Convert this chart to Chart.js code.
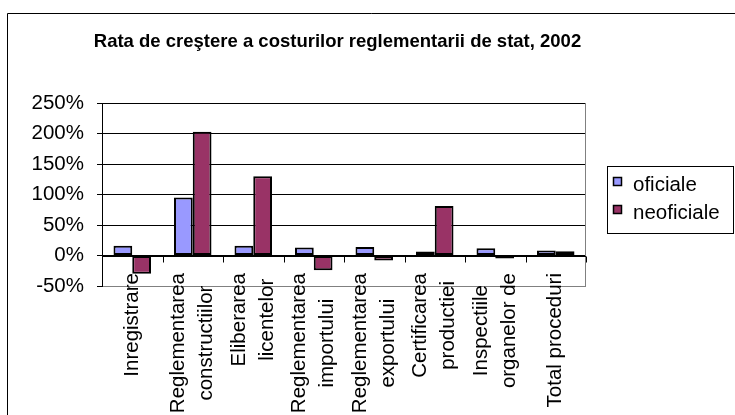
<!DOCTYPE html>
<html>
<head>
<meta charset="utf-8">
<script src="https://cdn.jsdelivr.net/npm/chart.js@4.4.1/dist/chart.umd.min.js"></script>
<style>
html,body{margin:0;padding:0;background:#fff;overflow:hidden}
#wrap{position:relative;width:735px;height:415px}
canvas{display:block}
</style>
</head>
<body>
<div id="wrap"><canvas id="c" width="735" height="415"></canvas></div>
<script>
// ---- data ----
const chartTitle = "Rata de creştere a costurilor reglementarii de stat, 2002";
const categories = [
  "Inregistrare",
  ["Reglementarea", "constructiilor"],
  ["Eliberarea", "licentelor"],
  ["Reglementarea", "importului"],
  ["Reglementarea", "exportului"],
  ["Certificarea", "productiei"],
  ["Inspectiile", "organelor de"],
  "Total proceduri"
];
const seriesNames = ["oficiale", "neoficiale"];
const oficiale   = [16, 95, 16, 13, 14, 6.5, 12, 8];
const neoficiale = [-30, 203, 130, -24, -8, 81, -5, 7];
const yTicks = [-50, 0, 50, 100, 150, 200, 250];

// ---- styling ----
const FONT = "'Liberation Sans', Arial, Helvetica, sans-serif";
const COLORS = ["#9999FF", "#993366"];

const decorPlugin = {
  id: 'decor',
  beforeDraw(chart) {
    const ctx = chart.ctx;
    ctx.save();
    ctx.fillStyle = '#fff';
    ctx.fillRect(0, 0, chart.width, chart.height);
    // outer chart frame
    ctx.strokeStyle = '#000';
    ctx.lineWidth = 1;
    ctx.beginPath();
    ctx.moveTo(7.5, chart.height + 2);
    ctx.lineTo(7.5, 13.5);
    ctx.lineTo(chart.width + 2, 13.5);
    ctx.stroke();
    // title
    ctx.fillStyle = '#000';
    ctx.font = "bold 18.5px " + FONT;
    ctx.textAlign = 'center';
    ctx.textBaseline = 'alphabetic';
    ctx.fillText(chartTitle, 337.5, 46.7);
    ctx.restore();
  },
  afterDatasetsDraw(chart) {
    const ctx = chart.ctx;
    const a = chart.chartArea;
    const xs = chart.scales.x, ys = chart.scales.y;
    ctx.save();
    // plot area right border (grey)
    ctx.strokeStyle = '#808080';
    ctx.lineWidth = 1;
    ctx.beginPath();
    ctx.moveTo(Math.round(a.right) - 0.5, a.top);
    ctx.lineTo(Math.round(a.right) - 0.5, a.bottom);
    ctx.stroke();
    // category axis at zero with tick marks between categories
    const y0 = Math.round(ys.getPixelForValue(0)) + 0.5;
    ctx.strokeStyle = '#000';
    ctx.beginPath();
    ctx.moveTo(a.left, y0);
    ctx.lineTo(a.right, y0);
    const n = categories.length;
    for (let i = 0; i <= n; i++) {
      const px = Math.round(xs.getPixelForValue(i - 0.5)) + 0.5;
      ctx.moveTo(px, y0);
      ctx.lineTo(px, y0 + 6);
    }
    ctx.stroke();
    ctx.restore();
  },
  afterDraw(chart) {
    const ctx = chart.ctx;
    const xs = chart.scales.x;
    ctx.save();
    // category labels, rotated, lines centred on the category
    ctx.fillStyle = '#000';
    ctx.font = "20.5px " + FONT;
    const LH = 28;
    const top = 273;
    categories.forEach((lab, i) => {
      const lines = Array.isArray(lab) ? lab : [lab];
      const cx = xs.getPixelForValue(i);
      const maxW = Math.max(...lines.map(l => ctx.measureText(l).width));
      const cy = top + maxW / 2;
      lines.forEach((line, j) => {
        const lx = cx + (j - (lines.length - 1) / 2) * LH;
        ctx.save();
        ctx.translate(lx, cy);
        ctx.rotate(-Math.PI / 2);
        ctx.textAlign = 'center';
        ctx.textBaseline = 'middle';
        ctx.fillText(line, 0, 0);
        ctx.restore();
      });
    });
    // legend
    ctx.strokeStyle = '#000';
    ctx.lineWidth = 1;
    ctx.strokeRect(607.5, 166.5, 126, 67);
    chart.data.datasets.forEach((ds, i) => {
      const my = 177.5 + 28 * i;
      ctx.fillStyle = ds.backgroundColor;
      ctx.fillRect(613.5, my, 8, 8);
      ctx.lineWidth = 1.5;
      ctx.strokeRect(613.5, my, 8, 8);
      ctx.fillStyle = '#000';
      ctx.font = "20.5px " + FONT;
      ctx.textAlign = 'left';
      ctx.textBaseline = 'alphabetic';
      ctx.fillText(ds.label, 633, 190.7 + 28 * i);
    });
    ctx.restore();
  }
};

new Chart(document.getElementById('c'), {
  type: 'bar',
  data: {
    labels: categories,
    datasets: [
      { label: seriesNames[0], data: oficiale, backgroundColor: COLORS[0] },
      { label: seriesNames[1], data: neoficiale, backgroundColor: COLORS[1] }
    ]
  },
  options: {
    responsive: false,
    devicePixelRatio: 1,
    animation: false,
    layout: { padding: { top: 103, left: 0, right: 149, bottom: 0 } },
    datasets: {
      bar: {
        categoryPercentage: 0.62,
        barPercentage: 1.0,
        borderColor: '#000',
        borderWidth: 2,
        borderSkipped: false
      }
    },
    plugins: {
      legend: { display: false },
      title: { display: false },
      tooltip: { enabled: false }
    },
    scales: {
      x: {
        afterFit: s => { s.height = 415 - 286; },
        ticks: { display: false },
        grid: { display: false },
        border: { display: false }
      },
      y: {
        min: -50,
        max: 250,
        afterBuildTicks: s => { s.ticks = yTicks.map(v => ({ value: v })); },
        afterFit: s => { s.width = 102; },
        ticks: {
          callback: v => v + '%',
          color: '#000',
          padding: 13,
          font: { family: FONT, size: 20.5 }
        },
        grid: {
          color: c => (c.tick && c.tick.value === -50) ? '#808080' : '#000',
          lineWidth: 1,
          tickLength: 5,
          tickColor: '#000'
        },
        border: { color: '#000', width: 1 }
      }
    }
  },
  plugins: [decorPlugin]
});
</script>
</body>
</html>
